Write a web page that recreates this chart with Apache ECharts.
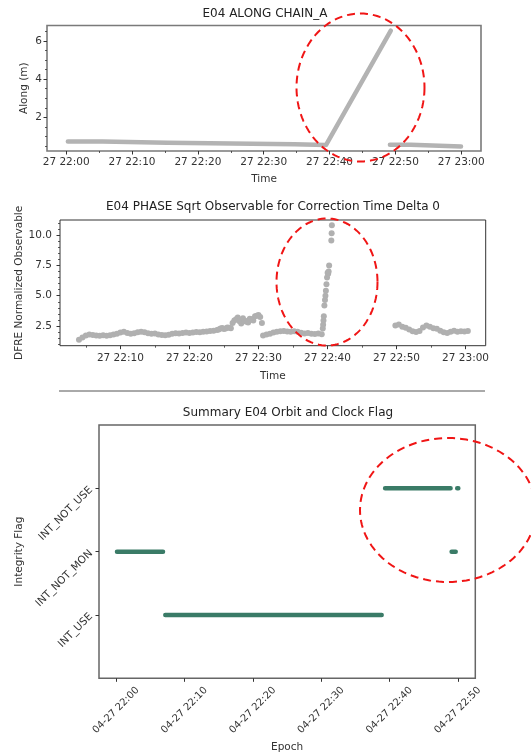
<!DOCTYPE html>
<html lang="en">
<head>
<meta charset="UTF-8">
<title>E04 along / phase / flag</title>
<script src="https://cdn.jsdelivr.net/npm/echarts@6/dist/echarts.min.js"></script>
<style>
  html, body { margin: 0; padding: 0; background: #fff; }
  #main { width: 531px; height: 755px; }
</style>
</head>
<body>
<div id="main"></div>
<script>
// ---------- chart 1 : E04 ALONG CHAIN_A ----------
var alongTimes  = ['22:00:15', '22:05:30', '22:05:30', '22:15:20', '22:15:20', '22:34:40', '22:34:40', '22:39:27',
                   '22:49:18', '22:49:18', '22:49:10', '22:52:20', '22:52:20', '22:59:58'];
var alongValues = [0.74, 0.74, 0.67, 0.67, 0.59, 0.59, 0.55, 0.55,
                   6.53, null, 0.57, 0.57, 0.50, 0.48];
var alongXTicks = ['22:00', '22:10', '22:20', '22:30', '22:40', '22:50', '23:00'];
var alongXMinor = ['22:05', '22:15', '22:25', '22:35', '22:45', '22:55'];
var alongYTicks = [2, 4, 6];
var alongYMinor = [0.5, 1, 1.5, 2.5, 3, 3.5, 4.5, 5, 5.5, 6.5];

// ---------- chart 2 : PHASE sqrt observable (segments sampled every 30 s) ----------
var phaseStepSec = 30;
var phaseSeg1Start = '22:04:00';
var phaseSeg1 = [1.38, 1.55, 1.72, 1.80, 1.76, 1.72, 1.70, 1.74, 1.70, 1.74,
                 1.80, 1.86, 1.96, 2.02, 1.92, 1.86, 1.90, 1.98, 2.04, 1.98,
                 1.90, 1.86, 1.88, 1.80, 1.76, 1.74, 1.78, 1.86, 1.90, 1.88,
                 1.92, 1.96, 1.92, 1.96, 2.00, 1.98, 2.02, 2.06, 2.10, 2.12,
                 2.18, 2.30, 2.26, 2.38, 2.32, 2.95, 3.20, 2.70, 2.95, 2.80,
                 3.05, 3.30, 3.42, 2.75];
var phaseNoisyStart = '22:24:15';
var phaseNoisy = [2.22, 2.34, 2.30, 2.36, 2.75, 3.05, 2.90, 3.15, 2.85, 3.10,
                  2.95, 3.35, 3.25];
var phaseSeg2Start = '22:30:40';
var phaseSeg2 = [1.72, 1.80, 1.86, 1.96, 2.02, 2.08, 2.10, 2.06, 2.04, 2.08,
                 2.02, 1.94, 1.88, 1.92, 1.86, 1.84, 1.88, 1.82];
var phaseSpikeTimes = ['22:39:19', '22:39:22', '22:39:25', '22:39:28', '22:39:33', '22:39:38', '22:39:42',
                       '22:39:46', '22:39:51', '22:39:56', '22:40:01', '22:40:06', '22:40:10', '22:40:14',
                       '22:40:33', '22:40:36', '22:40:38'];
var phaseSpike = [2.30, 2.60, 2.95, 3.30, 4.20, 4.65, 5.00, 5.40, 5.95, 6.50, 6.90, 6.80, 7.00, 7.50,
                  9.55, 10.15, 10.80];
var phaseSeg3Start = '22:49:50';
var phaseSeg3 = [2.55, 2.62, 2.45, 2.35, 2.22, 2.08, 2.00, 2.10, 2.38, 2.55,
                 2.45, 2.32, 2.28, 2.12, 1.98, 1.92, 2.02, 2.12, 2.04, 2.08,
                 2.06, 2.10];
var phaseXTicks = ['22:10', '22:20', '22:30', '22:40', '22:50', '23:00'];
var phaseXMinor = ['22:05', '22:15', '22:25', '22:35', '22:45', '22:55'];
var phaseYTicks = [2.5, 5, 7.5, 10];
var phaseYMinor = [1, 1.5, 2, 3, 3.5, 4, 4.5, 5.5, 6, 6.5, 7, 8, 8.5, 9, 9.5, 10.5, 11];

// ---------- chart 3 : orbit and clock flag ----------
var flagNames  = ['INT_USE', 'INT_NOT_MON', 'INT_NOT_USE'];
var flagStarts = ['22:00:08', '22:07:12', '22:39:22', '22:49:06', '22:49:55'];
var flagEnds   = ['22:06:52', '22:38:52', '22:48:57', '22:49:42', '22:50:05'];
var flagLevels = ['INT_NOT_MON', 'INT_USE', 'INT_NOT_USE', 'INT_NOT_MON', 'INT_NOT_USE'];
var flagXTicks = ['22:00', '22:10', '22:20', '22:30', '22:40', '22:50'];

var FONT = 'DejaVu Sans';

function ts(hms) {
    var p = hms.split(':');
    return Date.UTC(2022, 3, 27, +p[0], +p[1], +(p[2] || 0));
}
function pad(n) { return (n < 10 ? '0' : '') + n; }
function hhmm(v) {
    var d = new Date(v);
    return pad(d.getUTCHours()) + ':' + pad(d.getUTCMinutes());
}

// build [time, value] pairs
var alongData = alongTimes.map(function (t, i) {
    return [ts(t), alongValues[i] === null ? '-' : alongValues[i]];
});
function sampled(start, vals) {
    return vals.map(function (v, i) { return [ts(start) + i * phaseStepSec * 1000, v]; });
}
var phaseData = sampled(phaseSeg1Start, phaseSeg1)
    .concat(sampled(phaseNoisyStart, phaseNoisy))
    .concat(sampled(phaseSeg2Start, phaseSeg2))
    .concat(phaseSpikeTimes.map(function (t, i) { return [ts(t), phaseSpike[i]]; }))
    .concat(sampled(phaseSeg3Start, phaseSeg3));
var flagData = [];
flagStarts.forEach(function (s, i) {
    var lvl = flagNames.indexOf(flagLevels[i]);
    if (i > 0) flagData.push([ts(s), '-']);
    flagData.push([ts(s), lvl]);
    flagData.push([ts(flagEnds[i]), lvl]);
});

var txt = { fontFamily: FONT, color: '#333' };

function mainAxis(grid, min, max, ticks, fmt, label, extra) {
    var a = {
        type: 'value', gridIndex: grid, min: min, max: max,
        axisLine: { show: false, onZero: false },
        splitLine: { show: false },
        axisTick: { show: true, length: 3.5, lineStyle: { color: '#333', width: 1 }, customValues: ticks },
        axisLabel: Object.assign({ customValues: ticks, formatter: fmt, fontSize: 10.5 }, txt, label || {})
    };
    return Object.assign(a, extra || {});
}
function minorAxis(grid, min, max, ticks, pos) {
    return {
        type: 'value', gridIndex: grid, min: min, max: max, position: pos,
        axisLine: { show: false, onZero: false },
        splitLine: { show: false },
        axisTick: { show: true, length: 2, lineStyle: { color: '#333', width: 0.8 }, customValues: ticks },
        axisLabel: { show: false }
    };
}
function axisName(name, gap) {
    return { name: name, nameLocation: 'middle', nameGap: gap, nameMoveOverlap: false,
             nameTextStyle: { fontFamily: FONT, fontSize: 10.5, color: '#333' } };
}

var dayFmt = function (v) { return '27 ' + hhmm(v); };
var mdFmt = function (v) { return '04-27 ' + hhmm(v); };

// red dashed annotation rings
function ellipse(cx, cy, rx, ry) {
    var pts = [];
    for (var k = 0; k <= 120; k++) {
        var a = k / 120 * Math.PI * 2;
        pts.push([cx + rx * Math.cos(a), cy + ry * Math.sin(a)]);
    }
    return {
        type: 'polyline', z: 100, silent: true,
        shape: { points: pts },
        style: { stroke: '#f01515', lineWidth: 2, lineDash: [8, 5], fill: null }
    };
}

var x1min = ts('21:57:05'), x1max = ts('23:03:00');
var x2min = ts('22:01:15'), x2max = ts('23:02:55');
var x3min = ts('21:57:30'), x3max = ts('22:52:34');

var option = {
    animation: false,
    backgroundColor: '#fff',
    title: [
        { text: 'E04 ALONG CHAIN_A', left: 265, top: 8, textAlign: 'center', padding: 0,
          textStyle: { fontFamily: FONT, fontSize: 12, fontWeight: 'normal', color: '#222' } },
        { text: 'E04 PHASE Sqrt Observable for Correction Time Delta 0', left: 273, top: 201, textAlign: 'center', padding: 0,
          textStyle: { fontFamily: FONT, fontSize: 12, fontWeight: 'normal', color: '#222' } },
        { text: 'Summary E04 Orbit and Clock Flag', left: 288, top: 407, textAlign: 'center', padding: 0,
          textStyle: { fontFamily: FONT, fontSize: 12, fontWeight: 'normal', color: '#222' } }
    ],
    grid: [
        { left: 47, top: 25.5, width: 434, height: 125.5, show: true, borderColor: '#7a7a7a', borderWidth: 1.6 },
        { left: 60, top: 220, width: 425.7, height: 125.7, show: true, borderColor: '#333', borderWidth: 1 },
        { left: 99, top: 425, width: 376.3, height: 253.3, show: true, borderColor: '#666', borderWidth: 1.5 }
    ],
    xAxis: [
        mainAxis(0, x1min, x1max, alongXTicks.map(ts), dayFmt, { margin: 6 },
                 Object.assign({ position: 'bottom' }, axisName('Time', 23))),
        minorAxis(0, x1min, x1max, alongXMinor.map(ts), 'bottom'),
        mainAxis(1, x2min, x2max, phaseXTicks.map(ts), dayFmt, { margin: 7 },
                 Object.assign({ position: 'bottom' }, axisName('Time', 25))),
        minorAxis(1, x2min, x2max, phaseXMinor.map(ts), 'bottom'),
        mainAxis(2, x3min, x3max, flagXTicks.map(ts), mdFmt,
                 { rotate: 45, align: 'center', verticalAlign: 'middle', margin: 32, fontSize: 10 },
                 Object.assign({ position: 'bottom' }, axisName('Epoch', 63)))
    ],
    yAxis: [
        mainAxis(0, 0.24, 6.8, alongYTicks, function (v) { return String(v); }, { margin: 5 },
                 Object.assign({ position: 'left' }, axisName('Along (m)', 17))),
        minorAxis(0, 0.24, 6.8, alongYMinor, 'left'),
        mainAxis(1, 0.88, 11.24, phaseYTicks, function (v) { return v.toFixed(1); }, { margin: 8 },
                 Object.assign({ position: 'left' }, axisName('DFRE Normalized Observable', 35))),
        minorAxis(1, 0.88, 11.24, phaseYMinor, 'left'),
        mainAxis(2, -1, 3, [0, 1, 2], function (v) { return flagNames[Math.round(v)]; },
                 { rotate: 45, align: 'right', verticalAlign: 'middle', margin: 8 },
                 Object.assign({ position: 'left' }, axisName('Integrity Flag', 74)))
    ],
    series: [
        { type: 'line', xAxisIndex: 0, yAxisIndex: 0, data: alongData, symbol: 'none', silent: true,
          lineStyle: { color: '#b3b3b3', width: 4.5, cap: 'round', join: 'round' } },
        { type: 'scatter', xAxisIndex: 2, yAxisIndex: 2, data: phaseData, symbolSize: 6, silent: true,
          itemStyle: { color: '#b0b0b0', opacity: 1 } },
        { type: 'line', xAxisIndex: 4, yAxisIndex: 4, data: flagData, symbol: 'none', silent: true,
          lineStyle: { color: '#3a7b67', width: 4.5, cap: 'round', join: 'round' } }
    ],
    graphic: [
        { type: 'line', silent: true, shape: { x1: 59, y1: 391, x2: 485, y2: 391 },
          style: { stroke: '#555', lineWidth: 1 } },
        ellipse(360.5, 87.5, 64, 74),
        ellipse(327, 282, 50.5, 63.5),
        ellipse(448, 510, 88, 72)
    ]
};

var chart = echarts.init(document.getElementById('main'));
chart.setOption(option);
</script>
</body>
</html>
